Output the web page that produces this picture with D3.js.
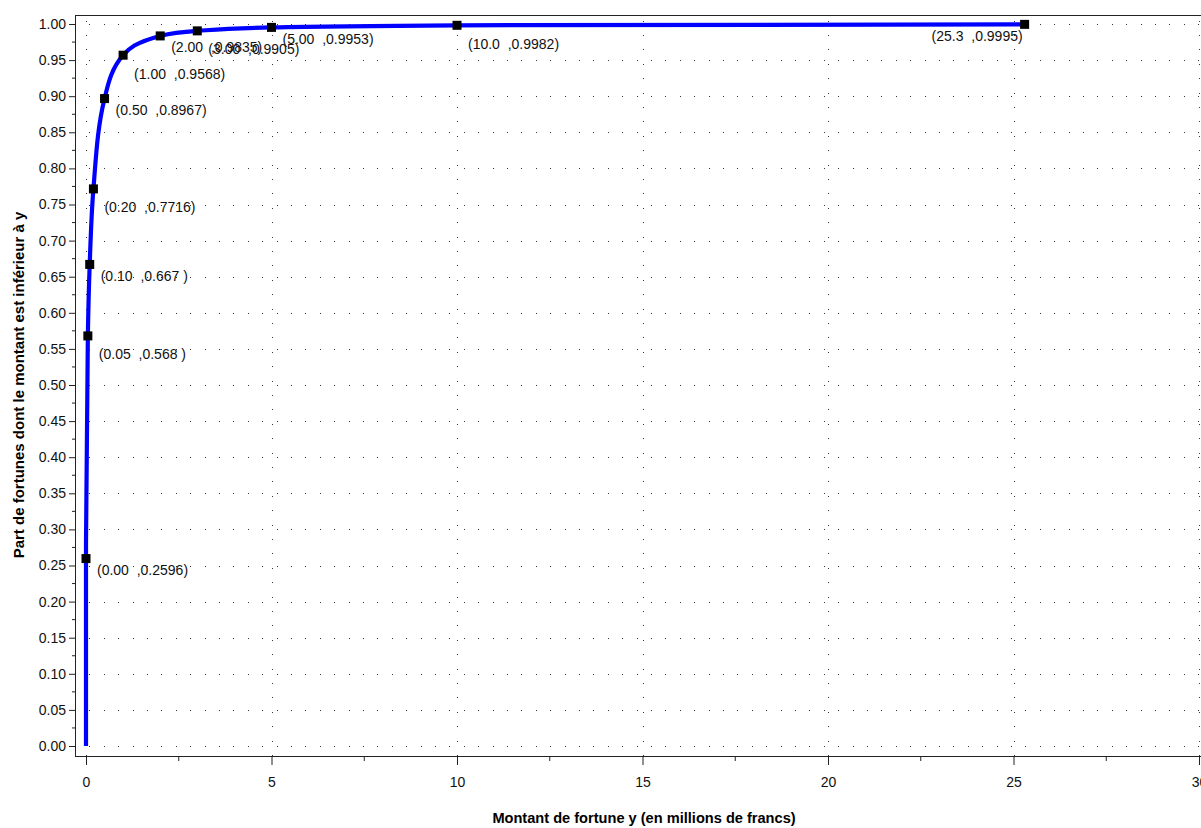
<!DOCTYPE html>
<html>
<head>
<meta charset="utf-8">
<script src="https://cdn.jsdelivr.net/npm/d3@7"></script>
<style>
  html, body { margin: 0; padding: 0; background: #fff; }
  svg { display: block; font-family: "Liberation Sans", Arial, sans-serif; }
  .lbl { white-space: pre; }
</style>
</head>
<body>
<svg id="chart" width="1201" height="828"></svg>
<script>
// Wealth amounts (millions of francs) and cumulative share of fortunes below them
const wealthX = [0.00, 0.05, 0.10, 0.20, 0.50, 1.00, 2.00, 3.00, 5.00, 10.0, 25.3];
const shareY  = [0.2596, 0.568, 0.667, 0.7716, 0.8967, 0.9568, 0.9835, 0.9905, 0.9953, 0.9982, 0.9995];
// The distribution curve starts at the origin
const curveStartX = [0];
const curveStartY = [0];

const xTicks = [0, 5, 10, 15, 20, 25, 30];
const xMinorTicks = [2.5, 7.5, 12.5, 17.5, 22.5, 27.5];
const yTicks = [0.00, 0.05, 0.10, 0.15, 0.20, 0.25, 0.30, 0.35, 0.40, 0.45, 0.50,
                0.55, 0.60, 0.65, 0.70, 0.75, 0.80, 0.85, 0.90, 0.95, 1.00];
const yMinorTicks = [0.025, 0.075, 0.125, 0.175, 0.225, 0.275, 0.325, 0.375, 0.425, 0.475,
                     0.525, 0.575, 0.625, 0.675, 0.725, 0.775, 0.825, 0.875, 0.925, 0.975];

const xTitle = "Montant de fortune y (en millions de francs)";
const yTitle = "Part de fortunes dont le montant est inférieur à y";

const svg = d3.select("#chart");

// Frame of the plotting area
const frame = { left: 75, top: 15, right: 1212, bottom: 756 };

const x = d3.scaleLinear().domain([0, 30]).range([86, 1199]);
const y = d3.scaleLinear().domain([0, 1]).range([746, 24]);

const axisColor = "#222";

// Dotted grid
const grid = svg.append("g").attr("shape-rendering", "crispEdges");
grid.selectAll("line.h").data(yTicks).join("line")
  .attr("x1", frame.left).attr("x2", frame.right)
  .attr("y1", d => Math.round(y(d)) + 0.5).attr("y2", d => Math.round(y(d)) + 0.5)
  .attr("stroke", "#333").attr("stroke-width", 1)
  .attr("stroke-dasharray", "1 13.4");
grid.selectAll("line.v").data(xTicks).join("line")
  .attr("x1", d => Math.round(x(d)) + 0.5).attr("x2", d => Math.round(x(d)) + 0.5)
  .attr("y1", frame.bottom).attr("y2", frame.top)
  .attr("stroke", "#333").attr("stroke-width", 1)
  .attr("stroke-dasharray", "1 13.4");

// Axes
const xAxis = d3.axisBottom(x).tickValues(xTicks).tickFormat(d3.format("d"))
  .tickSizeInner(9).tickSizeOuter(0).tickPadding(12);
const gx = svg.append("g").attr("transform", `translate(0,${frame.bottom})`).call(xAxis);
gx.select(".domain").remove();
gx.selectAll("text").attr("font-size", 14).attr("fill", "#111")
  .attr("font-family", "'Liberation Sans', Arial, sans-serif");
gx.selectAll("line").attr("stroke", axisColor);
gx.selectAll("line.minor").data(xMinorTicks).join("line").attr("class", "minor")
  .attr("x1", d => x(d)).attr("x2", d => x(d)).attr("y1", 0).attr("y2", 5)
  .attr("stroke", axisColor);

const yAxis = d3.axisLeft(y).tickValues(yTicks).tickFormat(d3.format(".2f"))
  .tickSizeInner(6).tickSizeOuter(0).tickPadding(3);
const gy = svg.append("g").attr("transform", `translate(${frame.left},0)`).call(yAxis);
gy.select(".domain").remove();
gy.selectAll("text").attr("font-size", 14).attr("fill", "#111")
  .attr("font-family", "'Liberation Sans', Arial, sans-serif");
gy.selectAll("line").attr("stroke", axisColor);
gy.selectAll("line.minor").data(yMinorTicks).join("line").attr("class", "minor")
  .attr("x1", -3).attr("x2", 0).attr("y1", d => y(d)).attr("y2", d => y(d))
  .attr("stroke", axisColor);

// Frame lines: left, bottom, top
svg.append("path")
  .attr("d", `M${frame.right},${frame.top + 0.5}H${frame.left + 0.5}V${frame.bottom + 0.5}H${frame.right}`)
  .attr("fill", "none").attr("stroke", axisColor).attr("stroke-width", 1)
  .attr("shape-rendering", "crispEdges");

// Distribution curve
const curvePts = curveStartX.map((d, i) => [d, curveStartY[i]])
  .concat(wealthX.map((d, i) => [d, shareY[i]]));
const line = d3.line().x(d => x(d[0])).y(d => y(d[1])).curve(d3.curveMonotoneY);
svg.append("path").datum(curvePts)
  .attr("d", line)
  .attr("fill", "none").attr("stroke", "#0000ff").attr("stroke-width", 4.2)
  .attr("stroke-linejoin", "round");

// Point markers
const pts = wealthX.map((d, i) => ({ x: d, y: shareY[i], i }));
svg.selectAll("rect.marker").data(pts).join("rect").attr("class", "marker")
  .attr("x", d => x(d.x) - 4.5).attr("y", d => y(d.y) - 4.5)
  .attr("width", 9).attr("height", 9).attr("fill", "#000");

// Point labels "(x  ,y)"
const fmtX = v => v < 10 ? v.toFixed(2) : v.toFixed(1);
const fmtY = v => String(v).padEnd(6, " ");
svg.selectAll("text.lbl").data(pts).join("text").attr("class", "lbl")
  .attr("x", d => d.i === pts.length - 1 ? x(d.x) - 2 : x(d.x) + 11)
  .attr("y", d => y(d.y) + (d.i % 2 === 0 ? 16.5 : 23.5))
  .attr("text-anchor", d => d.i === pts.length - 1 ? "end" : "start")
  .attr("font-size", 14).attr("fill", "#111")
  .text(d => `(${fmtX(d.x)}  ,${fmtY(d.y)})`);

// Axis titles
svg.append("text")
  .attr("x", 644).attr("y", 823)
  .attr("text-anchor", "middle").attr("font-weight", "bold").attr("font-size", 14.6)
  .attr("fill", "#000")
  .text(xTitle);
svg.append("text")
  .attr("transform", "translate(24,385) rotate(-90)")
  .attr("text-anchor", "middle").attr("font-weight", "bold").attr("font-size", 15)
  .attr("fill", "#000")
  .text(yTitle);
</script>
</body>
</html>
